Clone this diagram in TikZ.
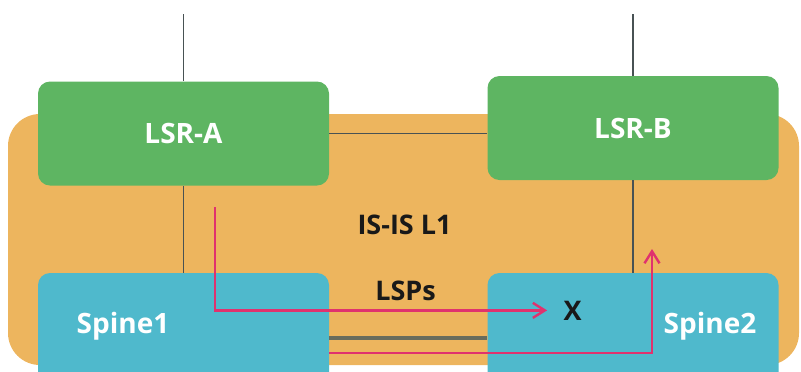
\documentclass[tikz,border=0pt]{standalone}
\usepackage{fontspec}
\setmainfont{Open Sans}
\usetikzlibrary{arrows.meta}

\definecolor{lsrgreen}{RGB}{94,181,98}
\definecolor{spineblue}{RGB}{79,185,204}
\definecolor{isisorange}{RGB}{237,181,94}
\definecolor{lsppink}{RGB}{224,50,110}
\definecolor{linkgray}{RGB}{72,82,84}
\definecolor{trunkgray}{RGB}{105,108,92}
\definecolor{tagdark}{RGB}{25,25,25}

\tikzset{
  lsr/.style={rectangle, rounded corners=6pt, fill=lsrgreen, inner sep=0pt,
    minimum width=145.5pt, minimum height=52pt, text=white,
    font=\bfseries\fontsize{14}{16}\selectfont},
  spine/.style={rectangle, rounded corners=6pt, fill=spineblue, inner sep=0pt,
    minimum width=145.5pt, minimum height=65pt},
  spinetag/.style={anchor=base, text=white, font=\bfseries\fontsize{14}{16}\selectfont},
  tag/.style={anchor=base, text=tagdark, font=\bfseries\fontsize{13.5}{16}\selectfont},
  link/.style={draw=linkgray, line width=0.9pt},
  trunk/.style={draw=trunkgray, line width=1.6pt},
  lsp/.style={draw=lsppink, line width=1.2pt, -{Straight Barb[length=6pt,width=7.5pt]}}
}

\begin{document}
\begin{tikzpicture}[x=0.5pt, y=-0.5pt]
	\useasboundingbox (0,0) rectangle (801,371);
	\clip (0,0) rectangle (801,371);
	
	% IS-IS L1 area
	\fill[isisorange, rounded corners=16pt] (8,114) rectangle (799,365);
	
	\node (lsrA) [lsr] at (183.5,133.5) {LSR-A};
	\node (lsrB) [lsr] at (633,128) {LSR-B};
	\node (spine1) [spine] at (183.5,338) {};
	\node (spine2) [spine] at (633,338) {};
	
	\node (spine1tag) [spinetag] at (123,333) {Spine1};
	\node (spine2tag) [spinetag] at (710,333) {Spine2};
	\node (isis) [tag] at (404.5,234) {IS-IS L1};
	\node (lsps) [tag] at (405.5,300) {LSPs};
	\node (xmark) [tag, inner sep=0pt] at (572.5,320) {X};
	
	\coordinate (upA) at (183.5,14);
	\coordinate (upB) at (633,14);
	\coordinate (lspA) at (215,207);
	\coordinate (lspB) at (329,353);
	\coordinate (lspC) at (652,249);
	
	\path[link]
	(upA) edge (lsrA)
	(upB) edge (lsrB)
	(lsrA) edge (spine1)
	(lsrB) edge (spine2)
	(lsrA.east) edge (lsrA.east -| lsrB.west);
	
	\path[trunk]
	(spine1) edge (spine2);
	
	\draw[lsp, shorten >=8pt] (lspA) |- (xmark.west);
	\draw[lsp] (lspB) -| (lspC);
	
\end{tikzpicture}
\end{document}
